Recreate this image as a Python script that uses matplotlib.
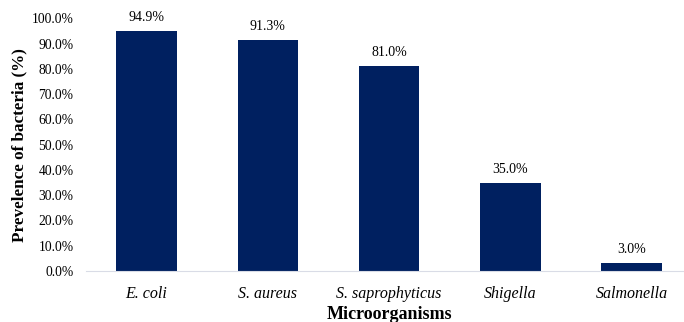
import numpy as np
import matplotlib.pyplot as plt

organisms = ['E. coli', 'S. aureus', 'S. saprophyticus', 'Shigella', 'Salmonella']
prevalence = [94.9, 91.3, 81.0, 35.0, 3.0]
yticks = [0, 10, 20, 30, 40, 50, 60, 70, 80, 90, 100]

plt.rcParams['font.family'] = ['Liberation Serif', 'DejaVu Serif']

fig = plt.figure(figsize=(6.84, 3.22), dpi=100)
W, H = 684, 322
left, right, bottom, top = 86, 692, 271, 18.4
ax = fig.add_axes([left / W, 1 - bottom / H, (right - left) / W, (bottom - top) / H])

x = np.arange(len(organisms))
bars = ax.bar(x, prevalence, width=0.5, color='#002060')
for b, v in zip(bars, prevalence):
    ax.annotate('%.1f%%' % v, (b.get_x() + b.get_width() / 2, v), xytext=(0, 5),
                textcoords='offset points', ha='center', va='bottom', fontsize=10)

ax.set_xlim(-0.5, 4.5)
ax.set_ylim(0, 100)
ax.set_yticks(yticks)
ax.set_yticklabels(['%.1f%%' % t for t in yticks], fontsize=9.8)
ax.set_xticks(x)
ax.set_xticklabels(organisms, fontsize=11.5, style='italic')
ax.tick_params(length=0, axis='y', pad=9)
ax.tick_params(length=0, axis='x', pad=11)
for s in ['top', 'right', 'left']:
    ax.spines[s].set_visible(False)
ax.spines['bottom'].set_color('#d9dce6')
ax.set_ylabel('Prevelence of bacteria (%)', fontsize=12.3, fontweight='bold', labelpad=3)
ax.set_xlabel('Microorganisms', fontsize=13, fontweight='bold', labelpad=2.5)

fig.savefig('out.png', dpi=100)
